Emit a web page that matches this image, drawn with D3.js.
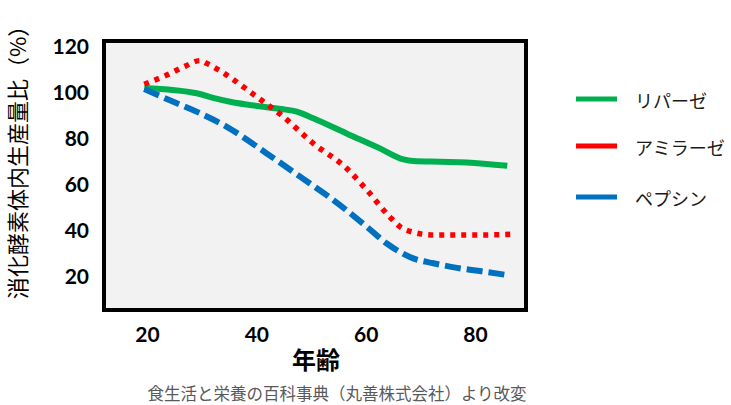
<!DOCTYPE html>
<html>
<head>
<meta charset="utf-8">
<script src="https://cdn.jsdelivr.net/npm/d3@7"></script>
<style>
  html, body { margin: 0; padding: 0; background: #ffffff; }
  svg { display: block; }
</style>
</head>
<body>
<svg id="chart" width="731" height="405"></svg>
<script>
// ---- data ----
const seriesNames = ["リパーゼ", "アミラーゼ", "ペプシン"];
const lipaseAge  = [19.5, 29.1, 32.1, 35.2, 41.3, 44.6, 47.4, 50.4, 56.5, 62.6, 66.9, 68.7, 73.6, 78.5, 85.9];
const lipaseVal  = [101.2, 98.9, 96.9, 95.2, 93.0, 92.0, 90.9, 88.0, 81.4, 74.9, 70.1, 69.4, 69.1, 68.8, 67.3];
const amylaseAge = [19.5, 23.6, 27.0, 29.7, 30.9, 34.6, 37.6, 41.3, 44.3, 50.4, 56.5, 60.2, 64.4, 66.3, 68.4, 72.4, 80.9, 86.8];
const amylaseVal = [102.8, 106.8, 110.7, 113.1, 111.9, 106.8, 101.7, 95.2, 89.9, 77.1, 66.2, 56.8, 45.1, 40.8, 38.6, 37.2, 37.2, 37.5];
const pepsinAge  = [19.5, 23.5, 29.7, 34.6, 41.9, 48.0, 54.1, 60.2, 63.8, 68.7, 72.4, 76.7, 80.9, 85.8];
const pepsinVal  = [100.7, 96.5, 90.2, 84.3, 72.7, 62.6, 52.4, 40.8, 33.6, 27.0, 24.9, 22.9, 21.5, 19.8];
const xTicks = [20, 40, 60, 80];
const yTicks = [20, 40, 60, 80, 100, 120];
const yTitle = "消化酵素体内生産量比（%）";
const xTitle = "年齢";
const sourceNote = "食生活と栄養の百科事典（丸善株式会社）より改変";

// ---- styles ----
const colors = ["#00b050", "#ff0000", "#0070c0"];
const dashes = [null, "5,6", "16,6"];
const numFont = "Lato, 'Open Sans', 'Liberation Sans', sans-serif";
const jpFont = "'Noto Sans CJK JP', 'Noto Sans CJK SC', sans-serif";

const svg = d3.select("#chart");

const x = d3.scaleLinear().domain([20, 80]).range([147, 475]);
const y = d3.scaleLinear().domain([20, 120]).range([274.5, 44.75]);

// plot box
svg.append("rect")
  .attr("x", 104).attr("y", 41).attr("width", 422).attr("height", 269)
  .attr("fill", "#f2f2f2").attr("stroke", "#000").attr("stroke-width", 4);

// y axis labels
const yAxis = svg.append("g").attr("transform", "translate(89,0)")
  .call(d3.axisLeft(y).tickValues(yTicks).tickSize(0).tickPadding(0));
yAxis.select(".domain").remove();
yAxis.selectAll("text")
  .attr("x", 0).attr("dy", null).attr("dominant-baseline", "central")
  .attr("font-family", numFont).attr("font-weight", 700).attr("font-size", 21).attr("fill", "#000");

// x axis labels
const xAxis = svg.append("g").attr("transform", "translate(0,333)")
  .call(d3.axisBottom(x).tickValues(xTicks).tickSize(0).tickPadding(0));
xAxis.select(".domain").remove();
xAxis.selectAll("text")
  .attr("y", 0).attr("dy", null).attr("dominant-baseline", "central")
  .attr("font-family", numFont).attr("font-weight", 700).attr("font-size", 21).attr("fill", "#000");

// lines
const series = [
  lipaseAge.map((a, i) => [a, lipaseVal[i]]),
  amylaseAge.map((a, i) => [a, amylaseVal[i]]),
  pepsinAge.map((a, i) => [a, pepsinVal[i]])
];
const line = d3.line().x(d => x(d[0])).y(d => y(d[1])).curve(d3.curveMonotoneX);
series.forEach((s, i) => {
  svg.append("path")
    .attr("d", line(s))
    .attr("fill", "none")
    .attr("stroke", colors[i])
    .attr("stroke-width", i === 1 ? 5.5 : 6)
    .attr("stroke-dasharray", dashes[i])
    .attr("stroke-linejoin", "round");
});

// legend
const legendY = [99, 146, 197];
seriesNames.forEach((name, i) => {
  svg.append("line")
    .attr("x1", 576).attr("x2", 617).attr("y1", legendY[i]).attr("y2", legendY[i])
    .attr("stroke", colors[i]).attr("stroke-width", 5);
  svg.append("text")
    .attr("x", 635).attr("y", legendY[i] + 1)
    .attr("dominant-baseline", "central")
    .attr("font-family", jpFont).attr("font-size", 18).attr("fill", "#1a1a1a")
    .text(name);
});

// axis titles
svg.append("text")
  .attr("transform", "translate(16,157) rotate(-90)")
  .attr("text-anchor", "middle").attr("dominant-baseline", "central")
  .attr("font-family", jpFont).attr("font-size", 22).attr("fill", "#000")
  .text(yTitle);

svg.append("text")
  .attr("x", 316).attr("y", 358)
  .attr("text-anchor", "middle").attr("dominant-baseline", "central")
  .attr("font-family", jpFont).attr("font-weight", 700).attr("font-size", 24).attr("fill", "#000")
  .text(xTitle);

svg.append("text")
  .attr("x", 337).attr("y", 393)
  .attr("text-anchor", "middle").attr("dominant-baseline", "central")
  .attr("font-family", jpFont).attr("font-size", 16.5).attr("fill", "#595959")
  .text(sourceNote);
</script>
</body>
</html>
